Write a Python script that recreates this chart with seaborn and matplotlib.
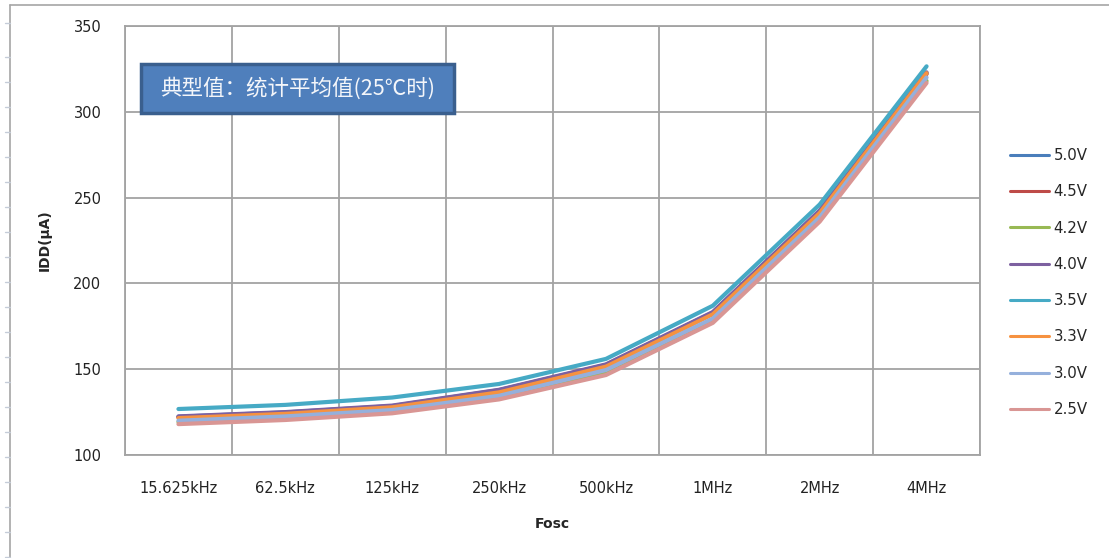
import numpy as np
import pandas as pd
import matplotlib
matplotlib.use("Agg")
import matplotlib.pyplot as plt
import seaborn as sns
from matplotlib.lines import Line2D
from matplotlib.patches import Rectangle

# ---------------- data ----------------
categories = ["15.625kHz", "62.5kHz", "125kHz", "250kHz", "500kHz", "1MHz", "2MHz", "4MHz"]
series_names = ["5.0V", "4.5V", "4.2V", "4.0V", "3.5V", "3.3V", "3.0V", "2.5V"]
v50 = [122.3, 124.8, 128.5, 137.8, 152.5, 183.0, 242.0, 322.5]
v45 = [122.0, 124.5, 128.2, 137.5, 152.2, 182.7, 241.7, 322.0]
v42 = [119.3, 121.8, 125.5, 133.8, 148.5, 178.5, 237.5, 318.0]
v40 = [122.5, 125.0, 128.8, 138.0, 152.8, 183.3, 242.5, 323.0]
v35 = [126.8, 129.2, 133.5, 141.4, 156.0, 187.0, 246.0, 326.5]
v33 = [121.5, 124.0, 127.8, 136.5, 151.5, 182.0, 241.0, 322.5]
v30 = [120.0, 122.5, 126.2, 134.5, 149.5, 179.5, 238.5, 320.0]
v25 = [118.0, 120.4, 124.3, 132.4, 146.6, 177.0, 236.0, 316.8]
y_ticks = [100, 150, 200, 250, 300, 350]
title_text = "典型值：统计平均值(25℃时)"
x_label = "Fosc"
y_label = "IDD(μA)"

colors = ["#4A7EBB", "#BE4B48", "#98B954", "#7D60A0", "#46AAC5", "#F69240", "#95B0DC", "#D99694"]

all_vals = [v50, v45, v42, v40, v35, v33, v30, v25]
rows = []
for name, vals in zip(series_names, all_vals):
    for i, (c, v) in enumerate(zip(categories, vals)):
        rows.append({"pos": i, "cat": c, "IDD": v, "V": name})
df = pd.DataFrame(rows)

# ---------------- style ----------------
sns.set_style("white")
plt.rcParams["font.family"] = ["DejaVu Sans", "Noto Sans CJK SC"]

W, H = 1109, 558
fig = plt.figure(figsize=(W / 100, H / 100), dpi=100)
L, R, T, B = 125, 980, 26, 455
ax = fig.add_axes([L / W, 1 - B / H, (R - L) / W, (B - T) / H])

sns.lineplot(data=df, x="pos", y="IDD", hue="V", hue_order=series_names,
             palette=dict(zip(series_names, colors)), linewidth=3.0,
             ax=ax, legend=True, sort=False)

grid_c = "#A3A3A3"
ax.set_xlim(-0.5, len(categories) - 0.5)
ax.set_ylim(y_ticks[0], y_ticks[-1])
ax.set_yticks(y_ticks)
ax.set_xticks(np.arange(-0.5, len(categories), 1.0))
ax.set_xticklabels([])
ax.set_xticks(np.arange(len(categories)), minor=True)
ax.set_xticklabels(categories, minor=True)
ax.tick_params(axis="x", which="minor", length=0, pad=19, labelsize=10.5, labelcolor="#222222")
ax.tick_params(axis="x", which="major", length=6, width=1.2, color=grid_c, direction="out")
ax.tick_params(axis="y", which="major", length=6, width=1.2, color=grid_c, direction="out",
               pad=11, labelsize=10.5, labelcolor="#222222")
ax.grid(True, which="major", color=grid_c, linewidth=1.3)
for s in ax.spines.values():
    s.set_color(grid_c)
    s.set_linewidth(1.3)
ax.set_axisbelow(True)

ax.set_xlabel(x_label, fontsize=10, fontweight="bold", va="center")
ax.xaxis.set_label_coords(0.5, (B - 524) / (B - T))
ax.set_ylabel(y_label, fontsize=10, fontweight="bold", va="center")
ax.yaxis.set_label_coords((45 - L) / (R - L), 0.5)

# legend
handles, labels = ax.get_legend_handles_labels()
ax.legend(handles, labels, loc="center left", bbox_to_anchor=(1010 / W, 1 - 282.5 / H),
          bbox_transform=fig.transFigure, frameon=False, fontsize=10.8,
          labelspacing=1.42, handlelength=2.6, handletextpad=0.3, borderpad=0,
          borderaxespad=0)
for line in ax.get_legend().get_lines():
    line.set_linewidth(2.2)

# title box
box = Rectangle((141 / W, 1 - 113 / H), (454 - 141) / W, (113 - 64) / H,
                transform=fig.transFigure, facecolor="#4F7FBC", edgecolor="#3A5F8E",
                linewidth=2.5, zorder=5)
fig.add_artist(box)
fig.text((141 + 454) / 2 / W, 1 - 88.5 / H, title_text, ha="center", va="center",
         color="#F4F6FA", fontsize=15.5, family=["Noto Sans CJK SC", "DejaVu Sans"], zorder=6)

# outer chart frame (sheet border)
frame_c = "#A6A6A6"
fig.add_artist(Line2D([10 / W, 10 / W], [0, 1 - 5 / H], transform=fig.transFigure,
                      color=frame_c, linewidth=1.2))
fig.add_artist(Line2D([10 / W, 1], [1 - 5 / H, 1 - 5 / H], transform=fig.transFigure,
                      color=frame_c, linewidth=1.2))
for yy in [23] + list(range(57, 558, 25)):
    fig.add_artist(Line2D([5 / W, 10 / W], [1 - yy / H, 1 - yy / H], transform=fig.transFigure,
                          color="#C5CCD8", linewidth=1))

fig.savefig("out.png", dpi=100)
